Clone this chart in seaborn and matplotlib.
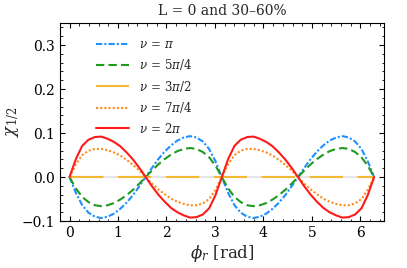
import numpy as np
import pandas as pd
import matplotlib
matplotlib.use("Agg")
import matplotlib.pyplot as plt
import seaborn as sns

# phi_r sampled every pi/24 over [0, 2pi]
phi = np.linspace(0, 2 * np.pi, 49)

# chi_1/2 values (one period of length pi, repeated)
half_red = [0.0, 0.041, 0.071, 0.085, 0.091, 0.092, 0.087, 0.080, 0.070, 0.056, 0.040, 0.021,
            0.0, -0.021, -0.040, -0.056, -0.070, -0.080, -0.087, -0.092, -0.091, -0.085, -0.071, -0.041]
half_orange = [0.0, 0.029, 0.050, 0.060, 0.064, 0.064, 0.061, 0.056, 0.049, 0.039, 0.028, 0.015,
               0.0, -0.015, -0.028, -0.039, -0.049, -0.056, -0.061, -0.064, -0.064, -0.060, -0.050, -0.029]
half_yellow = [0.0] * 24
half_green = [0.0, -0.026, -0.045, -0.057, -0.064, -0.066, -0.064, -0.059, -0.051, -0.041, -0.029, -0.015,
              0.0, 0.015, 0.029, 0.041, 0.051, 0.059, 0.064, 0.066, 0.064, 0.057, 0.045, 0.026]
half_blue = [0.0, -0.036, -0.064, -0.081, -0.090, -0.093, -0.090, -0.083, -0.072, -0.058, -0.041, -0.021,
             0.0, 0.021, 0.041, 0.058, 0.072, 0.083, 0.090, 0.093, 0.090, 0.081, 0.064, 0.036]

chi_pi = half_blue + half_blue + [0.0]
chi_5pi4 = half_green + half_green + [0.0]
chi_3pi2 = half_yellow + half_yellow + [0.0]
chi_7pi4 = half_orange + half_orange + [0.0]
chi_2pi = half_red + half_red + [0.0]

labels = [r"$\nu\,=\,\pi$", r"$\nu\,=\,5\pi/4$", r"$\nu\,=\,3\pi/2$",
          r"$\nu\,=\,7\pi/4$", r"$\nu\,=\,2\pi$"]
series = [chi_pi, chi_5pi4, chi_3pi2, chi_7pi4, chi_2pi]
colors = ["#1e90ff", "#1f9a1f", "#f2b935", "#ff8c1a", "#ff1a1a"]

df = pd.concat([pd.DataFrame({"phi": phi, "chi": s, "nu": lab}) for s, lab in zip(series, labels)])

sns.set_style("ticks")
plt.rcParams["font.family"] = ["DejaVu Serif"]
plt.rcParams["mathtext.fontset"] = "dejavuserif"
plt.rcParams["axes.edgecolor"] = "black"
plt.rcParams["xtick.color"] = "black"
plt.rcParams["ytick.color"] = "black"

fig, ax = plt.subplots(figsize=(4.07, 2.68), dpi=100)
fig.subplots_adjust(left=0.147, right=0.943, top=0.914, bottom=0.175)

# light grey zero line under the dashed yellow curve
ax.plot(phi, np.zeros_like(phi), color="#e6e6e6", lw=1.5, zorder=1)

styles = [dict(ls=(0, (3, 1, 1, 1))), dict(ls=(0, (4, 2))), dict(ls=(0, (16, 7))),
          dict(ls=(0, (1, 1))), dict(ls="-")]
for lab, col, st in zip(labels, colors, styles):
    sub = df[df["nu"] == lab]
    sns.lineplot(data=sub, x="phi", y="chi", color=col, lw=1.5, label=lab, ax=ax, zorder=2, **st)

ax.set_xlim(-0.2, 2 * np.pi + 0.2)
ax.set_ylim(-0.1, 0.35)
ax.set_xticks(range(0, 7))
ax.set_yticks([-0.1, 0.0, 0.1, 0.2, 0.3])
ax.xaxis.set_minor_locator(matplotlib.ticker.MultipleLocator(0.2))
ax.yaxis.set_minor_locator(matplotlib.ticker.MultipleLocator(0.02))
ax.tick_params(which="both", direction="in", top=True, right=True, labelsize=10)
ax.tick_params(which="major", length=3.5)
ax.tick_params(which="minor", length=1.8)

ax.set_xlabel(r"$\phi_r$ [rad]", fontsize=12, labelpad=2)
ax.set_ylabel(r"$\chi_{1/2}$", fontsize=12, labelpad=0)
ax.set_title("L = 0 and 30\u201360%", fontsize=10)

ax.legend(loc="upper left", frameon=False, fontsize=8.5, handlelength=2.8,
          bbox_to_anchor=(0.08, 0.98), labelspacing=0.55)

fig.savefig("out.png", dpi=100)
